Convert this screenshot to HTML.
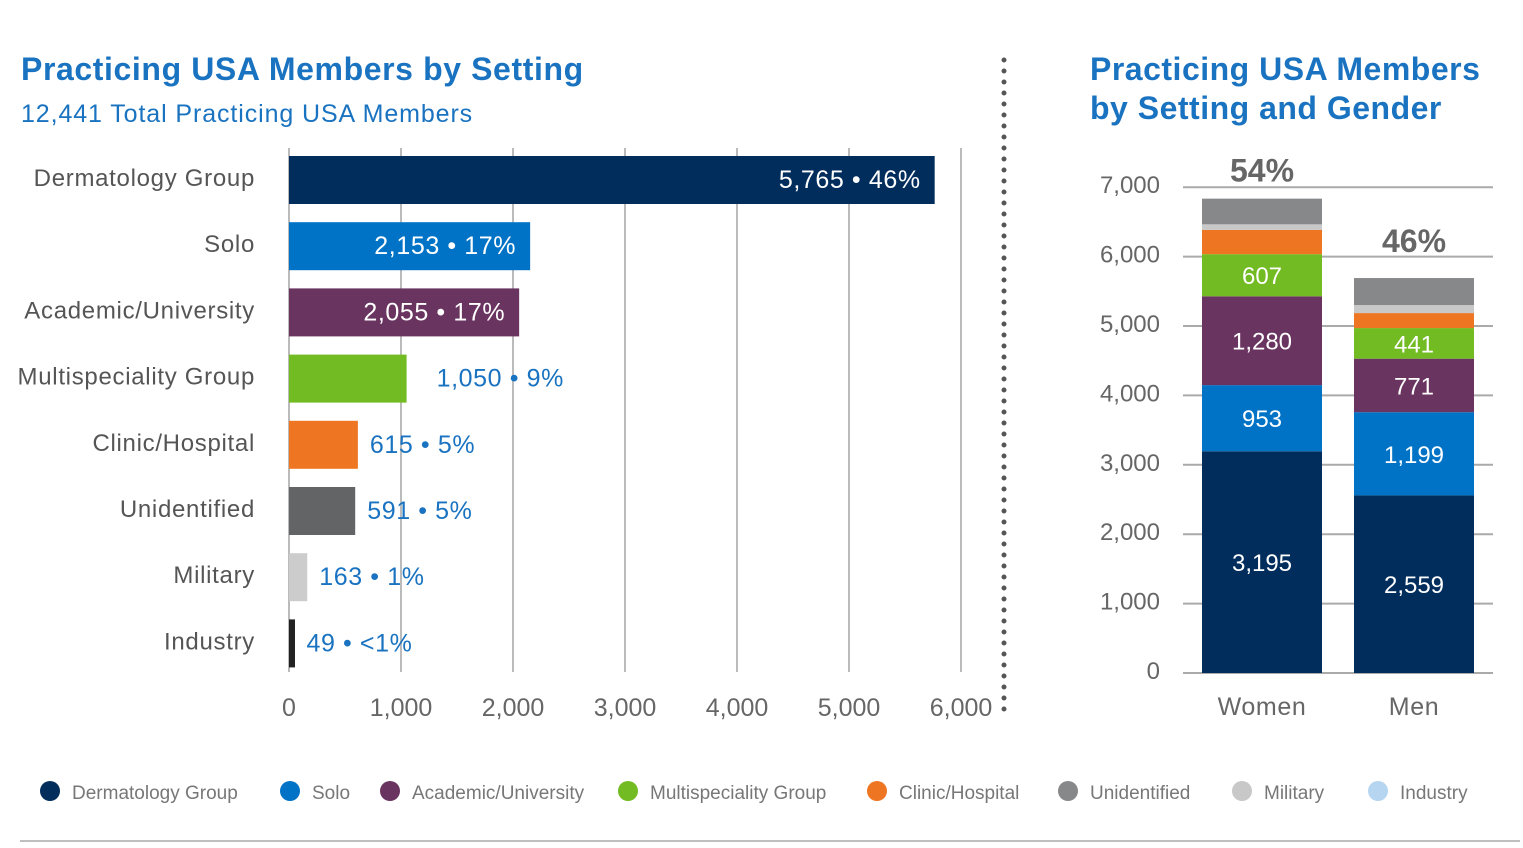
<!DOCTYPE html>
<html><head><meta charset="utf-8">
<style>
body{margin:0;background:#fff;width:1523px;height:843px;overflow:hidden;font-family:"Liberation Sans",sans-serif;}
svg text{font-family:"Liberation Sans",sans-serif;}
</style></head>
<body>
<svg id="c" width="1523" height="843">
<text x="21" y="80" font-size="32" font-weight="bold" fill="#1a73c0" letter-spacing="0.6">Practicing USA Members by Setting</text>
<text x="21" y="122" font-size="25" fill="#1a73c0" letter-spacing="0.9">12,441 Total Practicing USA Members</text>
<text x="1090" y="80" font-size="32" font-weight="bold" fill="#1a73c0" letter-spacing="0.5">Practicing USA Members</text>
<text x="1090" y="119" font-size="32" font-weight="bold" fill="#1a73c0" letter-spacing="0.5">by Setting and Gender</text>
<line x1="1004" y1="60" x2="1004" y2="714" stroke="#555" stroke-width="5" stroke-dasharray="0,11" stroke-linecap="round"/>
<line x1="20" y1="841" x2="1520" y2="841" stroke="#aaa" stroke-width="1.5"/>
<g id="g"></g>
</svg>
<script>
const categories=["Dermatology Group","Solo","Academic/University","Multispeciality Group","Clinic/Hospital","Unidentified","Military","Industry"];
const totals=[5765,2153,2055,1050,615,591,163,49];
const pctLabels=["46%","17%","17%","9%","5%","5%","1%","<1%"];
const colors=["#002d5c","#0073c6","#6a3460","#72bb22","#ee7623","#636466","#cccccc","#222222"];
const legendColors=["#002d5c","#0073c6","#6a3460","#72bb22","#ee7623","#87888a","#c8c8c8","#b6d5f0"];
const xTicks=[0,1000,2000,3000,4000,5000,6000];
const genders=["Women","Men"];
const stackOrder=[0,1,2,3,4,6,5];
const women=[3195,953,1280,607,350,80,370];
const men=[2559,1199,771,441,216,115,390];
const genderPct=["54%","46%"];
const yTicks=[0,1000,2000,3000,4000,5000,6000,7000];

const NS="http://www.w3.org/2000/svg";
const g=document.getElementById('g');
function el(t,a,txt){const e=document.createElementNS(NS,t);for(const k in a)e.setAttribute(k,a[k]);if(txt!==undefined)e.textContent=txt;g.appendChild(e);return e;}
const fmt=v=>v.toLocaleString('en-US');
const x=v=>289+v*0.112;
const rowY=i=>180+i*66.2;
xTicks.forEach((t,i)=>{
  const gl=el('line',{x1:x(t),y1:148,x2:x(t),y2:672,stroke:'#bbb','stroke-width':2});
  
  const tl=el('text',{x:x(t),y:716,'font-size':25,fill:'#666','text-anchor':'middle'},fmt(t));
  
});
categories.forEach((c,i)=>{
  const y=rowY(i);
  const cl=el('text',{x:255,y:y+6,'font-size':24,fill:'#555','text-anchor':'end','letter-spacing':0.7},c);
  
  const w=Math.max(x(totals[i])-289,6);
  const b=el('rect',{x:289,y:y-24,width:w,height:48,fill:colors[i]});
  
  
  const lbl=fmt(totals[i])+' • '+pctLabels[i];
  const inside=totals[i]>1500;
  const vl=el('text',{x:inside?x(totals[i])-14:x(totals[i])+(totals[i]>1000?30:12),y:y+8,'font-size':25,fill:inside?'#fff':'#1a73c0','text-anchor':inside?'end':'start','letter-spacing':0.6},lbl);
  
});
const yv=v=>673-v*0.0694;
yTicks.forEach(t=>{
  const gl=el('line',{x1:1183,y1:yv(t),x2:1493,y2:yv(t),stroke:'#aaa','stroke-width':2});
  
  const tl=el('text',{x:1160,y:yv(t)+6,'font-size':24,fill:'#666','text-anchor':'end'},fmt(t));
  
});
[women,men].forEach((vals,gi)=>{
  const bx=1202+gi*152;let acc=0;
  vals.forEach((v,k)=>{
    const ci=stackOrder[k];
    const r=el('rect',{x:bx,y:yv(acc+v),width:120,height:yv(acc)-yv(acc+v),fill:legendColors[ci]});
    
    
    if(k<4){const t=el('text',{x:bx+60,y:(yv(acc)+yv(acc+v))/2+9,'font-size':24,fill:'#fff','text-anchor':'middle'},fmt(v));
      }
    acc+=v;
  });
  const p=el('text',{x:bx+60,y:yv(acc)-(gi?26:17),'font-size':32,'font-weight':'bold',fill:'#666','text-anchor':'middle'},genderPct[gi]);
  
  const gl=el('text',{x:bx+60,y:715,'font-size':25,fill:'#666','text-anchor':'middle','letter-spacing':0.6},genders[gi]);
  
});
const lx=[50,290,390,628,877,1068,1242,1378];
categories.forEach((c,i)=>{
  const d=el('circle',{cx:lx[i],cy:791,r:10,fill:legendColors[i]});
  
  const t=el('text',{x:lx[i]+22,y:799,'font-size':19,fill:'#777'},c);
  
});
</script>
</body></html>
